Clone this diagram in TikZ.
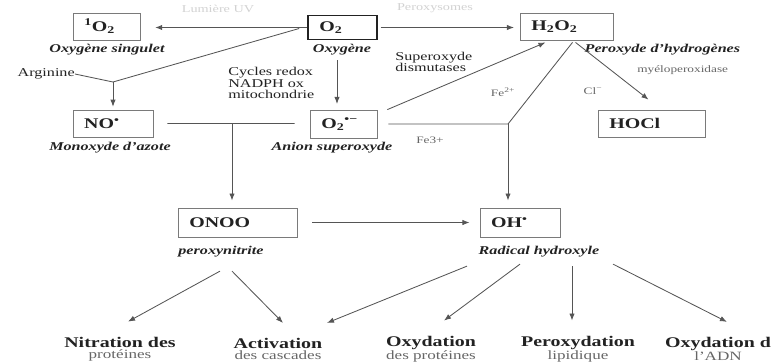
\documentclass[tikz,border=0pt]{standalone}
\usepackage{fontspec}
\setmainfont{Liberation Serif}[FakeStretch=1.35]
\usepackage{tikz}
\usetikzlibrary{calc,arrows.meta}
\definecolor{ink}{HTML}{222222}
\definecolor{wire}{HTML}{555555}
\definecolor{frame}{HTML}{7A7A7A}
\definecolor{soft}{HTML}{666666}
\definecolor{faint}{HTML}{D2D2D2}
\tikzset{
  box/.style={draw=frame, line width=0.6pt, text=ink, font=\bfseries\fontsize{10.5}{12}\selectfont,
    align=left, inner xsep=8pt, inner ysep=0pt, minimum height=0.675cm},
  species/.style={text=ink, font=\bfseries\itshape\fontsize{8.5}{10}\selectfont, inner sep=1pt},
  note/.style={text=ink, font=\fontsize{8.5}{8}\selectfont, align=left, inner sep=0pt},
  ion/.style={text=soft, font=\fontsize{7}{8}\selectfont, inner sep=0pt},
  hint/.style={text=faint, font=\fontsize{7.5}{8}\selectfont, inner sep=0pt},
  effect/.style={text=ink, align=center, font=\fontsize{10.5}{8}\selectfont, inner sep=0pt},
  wire/.style={draw=wire, line width=0.6pt},
  arr/.style={wire, -{Latex[length=5pt,width=3.8pt]}}
}

\begin{document}
\begin{tikzpicture}[x=0.025cm, y=-0.025cm]
\useasboundingbox (0,0) rectangle (773,363);

% species boxes
\node[box, text width=1.11cm] (sO2) at (106.5,26.5) {\textsuperscript{1}O\textsubscript{2}};
\node[box, draw=ink, line width=1.3pt, text width=1.16cm, minimum height=0.6cm] (O2) at (342.5,27.5) {O\textsubscript{2}};
\node[box, text width=1.76cm] (H2O2) at (566.5,26.5) {H\textsubscript{2}O\textsubscript{2}};
\node[box, text width=2.11cm] (HOCl) at (651.5,123.5) {HOCl};
\node[box, text width=1.44cm] (NO) at (113,123.5) {NO\textsuperscript{•}};
\node[box, text width=1.11cm, minimum height=0.7cm] (O2m) at (343.5,124) {O\textsubscript{2}\textsuperscript{•−}};
\node[box, text width=2.41cm, minimum height=0.725cm] (ONOO) at (237.5,222.5) {ONOO};
\node[box, text width=1.44cm, minimum height=0.725cm] (OH) at (520,222.5) {OH\textsuperscript{•}};

% names under the boxes
\node[species] (lsO2) at (107,50) {Oxygène singulet};
\node[species] (lO2) at (342,50) {Oxygène};
\node[species, anchor=west] (lH2O2) at (583,50) {Peroxyde d'hydrogènes};
\node[species] (lNO) at (110,148) {Monoxyde d'azote};
\node[species] (lO2m) at (332,148) {Anion superoxyde};
\node[species] (lONOO) at (221,252) {peroxynitrite};
\node[species] (lOH) at (539,252) {Radical hydroxyle};

% small texts
\node[hint] (uv) at (218,9) {Lumière UV};
\node[hint] (perox) at (435,8) {Peroxysomes};
\node[note, anchor=east] (arg) at (75,74) {Arginine};
\node[note, anchor=west] (redox) at (228,83) {Cycles redox\\NADPH ox\\mitochondrie};
\node[note, anchor=west] (sod) at (395,62) {Superoxyde\\dismutases};
\node[ion, anchor=west] (myelo) at (637,70) {myéloperoxidase};
\node[ion] (fe2) at (503,92) {Fe\textsuperscript{2+}};
\node[ion] (cl) at (593,91) {Cl\textsuperscript{−}};
\node[ion] (fe3) at (430,140) {Fe3+};

% effects
\node[effect] (nitr) at (120,349) {\textbf{Nitration des}\\{\color{soft}\fontsize{9}{8}\selectfont protéines}};
\node[effect] (activ) at (278,349) {\textbf{Activation}\\{\color{soft}\fontsize{9}{8}\selectfont des cascades}};
\node[effect] (oxprot) at (431,349) {\textbf{Oxydation}\\{\color{soft}\fontsize{9}{8}\selectfont des protéines}};
\node[effect] (lipid) at (578,349) {\textbf{Peroxydation}\\{\color{soft}\fontsize{9}{8}\selectfont lipidique}};
\node[effect] (oxadn) at (718,349) {\textbf{Oxydation d}\\{\color{soft}\fontsize{9}{8}\selectfont l'ADN}};

% O2 to singlet oxygen and H2O2
\draw[arr, shorten >=0.37cm] (O2.west) -- (O2.west -| sO2.east);
\draw[arr, shorten <=2pt, shorten >=4pt] (O2.east) -- (O2.east -| H2O2.west);

% arginine branch to NO
\coordinate (jNO) at (113,82);
\draw[wire] ($(O2.west)+(-8,1)$) -- (jNO);
\draw[wire] (arg.east) -- (jNO);
\draw[arr, shorten >=2pt] (jNO) -- (NO.north);

% O2 to superoxide, superoxide to H2O2
\coordinate (jRed) at (337,60);
\draw[arr, shorten >=4pt] (jRed) -- (jRed |- O2m.north);
\draw[arr] ($(O2m.north east)+(10,0)$) -- ($(H2O2.south)+(-21,2)$);

% NO + superoxide to peroxynitrite
\coordinate (jON) at (232,123.5);
\draw[wire] ($(NO.east)+(14,0)$) -- ($(O2m.west)+(-15,-0.5)$);
\draw[arr, shorten >=5pt] (jON) -- (jON |- ONOO.north);

% Fenton, H2O2 to OH
\coordinate (jOH) at (508,124);
\draw[wire] ($(O2m.east)+(11,0)$) -- (jOH) -- ($(H2O2.south)+(6,2)$);
\draw[arr, shorten >=5pt] (jOH) -- (jOH |- OH.north);

% H2O2 to HOCl
\draw[arr] ($(H2O2.south)+(9,2)$) -- ($(HOCl.north)+(-3,-10)$);

% peroxynitrite to OH
\draw[arr] ($(ONOO.east)+(15,0)$) -- ($(OH.west)+(-10,0)$);

% damages
\draw[arr] ($(lONOO.south)+(-1,12)$) -- ($(nitr.north)+(8,-15)$);
\draw[arr] ($(lONOO.south)+(11,12)$) -- ($(activ.north)+(5,-15)$);
\draw[arr] ($(lOH.south)+(-72,7)$) -- ($(activ.north)+(49,-15)$);
\draw[arr] ($(lOH.south)+(-19,5)$) -- ($(oxprot.north)+(13,-15)$);
\draw[arr] ($(lOH.south)+(33,7)$) -- ($(lipid.north)+(-6,-15)$);
\draw[arr] ($(lOH.south)+(74,5)$) -- ($(oxadn.north)+(9,-15)$);
\end{tikzpicture}
\end{document}
